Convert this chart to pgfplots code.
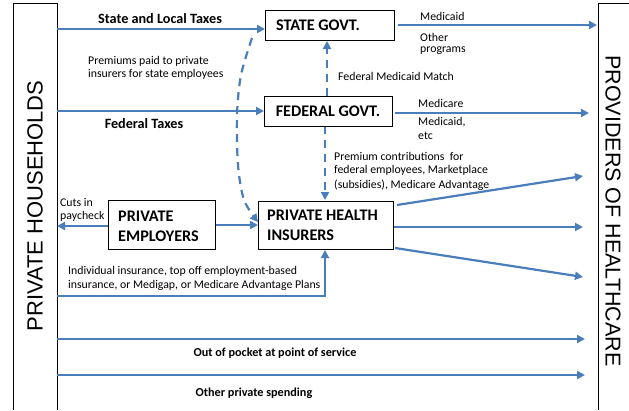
\documentclass[border=0pt]{standalone}
\usepackage{fontspec}
\setmainfont{Carlito}
\newfontfamily\arialf{Liberation Sans}
\usepackage{pgfplots}
\pgfplotsset{compat=1.18}
\usetikzlibrary{arrows.meta}
\definecolor{fb}{HTML}{4A7EBB}
\begin{document}
\begin{tikzpicture}
\tikzset{
  fl/.style={draw=fb, line width=2.2pt, -{Triangle[length=8pt,width=8pt]}, no markers},
  fd/.style={fl, dash pattern=on 8pt off 6pt},
  bx/.style={draw=black, line width=0.8pt, fill=white, no markers, line join=miter},
  sm/.style={font=\fontsize{11.8}{13}\selectfont, inner sep=0pt, anchor=west},
  bl/.style={font=\fontsize{12.2}{14}\selectfont\bfseries, inner sep=0pt},
  blt/.style={font=\fontsize{14.2}{16}\selectfont\bfseries, inner sep=0pt},
  bt/.style={font=\fontsize{16.2}{18}\selectfont\bfseries, inner sep=0pt},
}
\begin{axis}[scale only axis, width=629pt, height=410pt,
  xmin=0, xmax=629, ymin=0, ymax=410, y dir=reverse,
  hide axis, clip=false]
% side boxes
\addplot[draw=black, line width=0.8pt, no markers] coordinates {(13,410) (13,3) (57,3) (57,410)};
\addplot[draw=black, line width=0.8pt, no markers] coordinates {(629,3) (598,3) (598,410)};
\node[rotate=90, font=\arialf\fontsize{22}{24}\selectfont, inner sep=0pt] at (axis cs:35,206) {PRIVATE HOUSEHOLDS};
\node[rotate=-90, font=\arialf\fontsize{21.5}{24}\selectfont, inner sep=0pt] at (axis cs:613,211) {PROVIDERS OF HEALTHCARE};
% taxes
\addplot[fl] coordinates {(57,29) (265,29)};
\node[blt] at (axis cs:160,19) {State and Local Taxes};
\addplot[fl] coordinates {(57,111) (264,111)};
\node[blt] at (axis cs:144,124) {Federal Taxes};
\node[sm] at (axis cs:88,61) {Premiums paid to private};
\node[sm] at (axis cs:88,74) {insurers for state employees};
% dashed curve
\addplot[fd, smooth] coordinates {(252,38) (241,75) (237,115) (238,165) (244,200) (258,222)};
% dashed verticals
\addplot[fd] coordinates {(327,96) (327,41)};
\node[sm] at (axis cs:338,76) {Federal Medicaid Match};
\addplot[fd] coordinates {(325,126) (325,200)};
\node[sm] at (axis cs:334,156) {Premium contributions\ \ for};
\node[sm] at (axis cs:334,170) {federal employees, Marketplace};
\node[sm] at (axis cs:334,185) {(subsidies), Medicare Advantage};
% govt outflows
\addplot[fl] coordinates {(398,25) (597,25)};
\node[sm] at (axis cs:420,16) {Medicaid};
\node[sm] at (axis cs:420,37) {Other};
\node[sm] at (axis cs:420,51) {programs};
\addplot[fl] coordinates {(395,113) (589,113)};
\node[sm] at (axis cs:418,103) {Medicare};
\node[sm] at (axis cs:418,122) {Medicaid,};
\node[sm] at (axis cs:418,136) {etc};
% boxes
\addplot[bx] coordinates {(265,10) (394,10) (394,40) (265,40) (265,10)};
\node[bt] at (axis cs:318,25) {STATE GOVT.};
\addplot[bx] coordinates {(264,96) (392,96) (392,126) (264,126) (264,96)};
\node[bt] at (axis cs:328,111) {FEDERAL GOVT.};
% employers
\addplot[fl] coordinates {(108,226) (57,226)};
\node[sm] at (axis cs:60,202) {Cuts in};
\node[sm] at (axis cs:60,216) {paycheck};
\addplot[fl] coordinates {(215,225) (258,225)};
\addplot[bx] coordinates {(108,200) (215,200) (215,249) (108,249) (108,200)};
\node[bt, anchor=west] at (axis cs:118,216) {PRIVATE};
\node[bt, anchor=west] at (axis cs:118,236) {EMPLOYERS};
% individual insurance
\addplot[fl] coordinates {(57,296) (325,296) (325,250)};
\node[sm] at (axis cs:68,271) {Individual insurance, top off employment-based};
\node[sm] at (axis cs:68,285) {insurance, or Medigap, or Medicare Advantage Plans};
% insurer outflows
\addplot[fl] coordinates {(397,205) (583,176)};
\addplot[fl] coordinates {(393,227) (583,227)};
\addplot[fl] coordinates {(395,248) (583,277)};
\addplot[bx] coordinates {(258,201) (393,201) (393,249) (258,249) (258,201)};
\node[bt, anchor=west] at (axis cs:267,215) {PRIVATE HEALTH};
\node[bt, anchor=west] at (axis cs:267,235) {INSURERS};
% bottom
\addplot[fl] coordinates {(57,339) (585,339)};
\node[bl] at (axis cs:275,353) {Out of pocket at point of service};
\addplot[fl] coordinates {(57,375) (585,375)};
\node[bl] at (axis cs:254,393) {Other private spending};
\end{axis}
\pgfresetboundingbox
\path[use as bounding box] (0,0) rectangle (629pt,410pt);
\end{tikzpicture}
\end{document}
